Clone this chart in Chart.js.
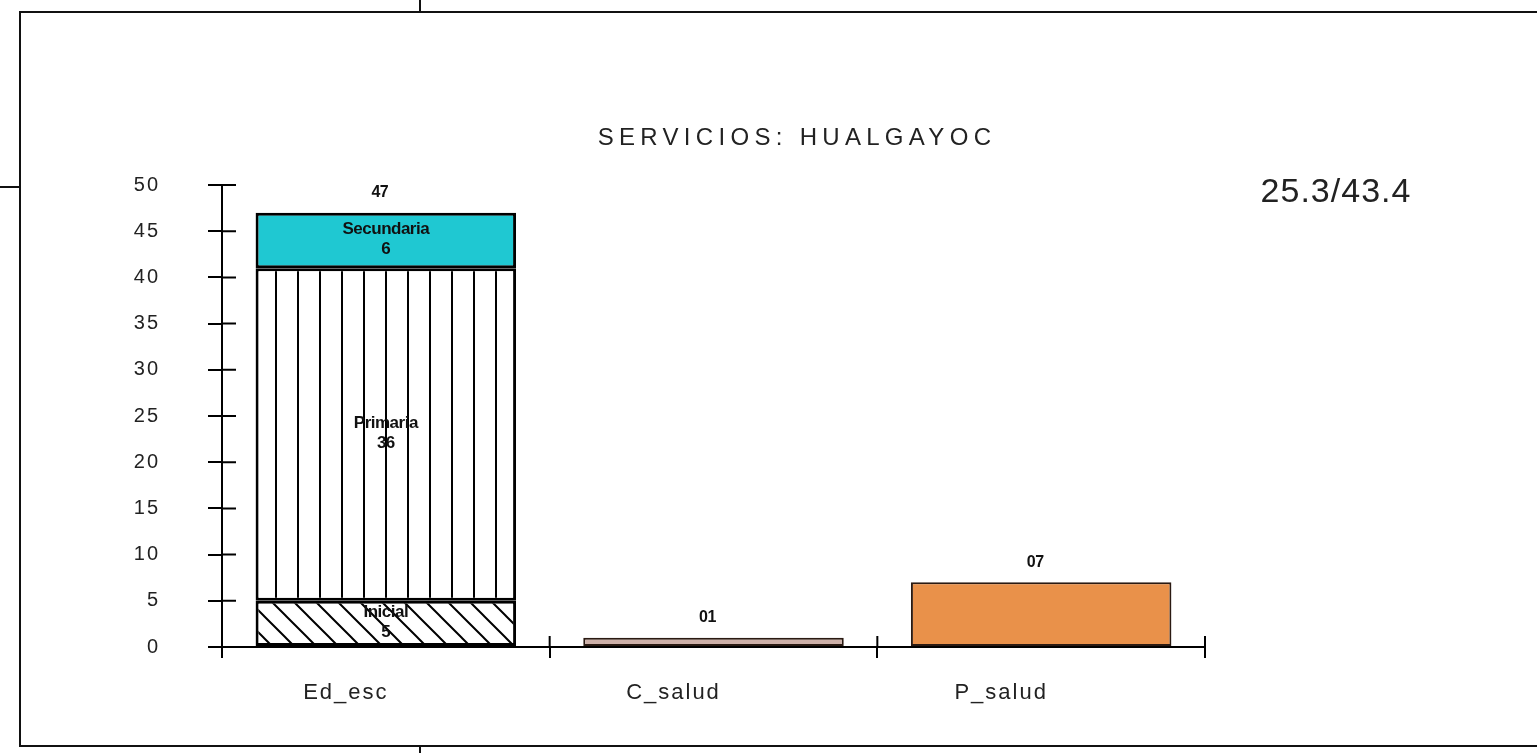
<!DOCTYPE html>
<html>
<head>
<meta charset="utf-8">
<script src="https://cdn.jsdelivr.net/npm/chart.js@4/dist/chart.umd.min.js"></script>
<style>
  html, body { margin: 0; padding: 0; background: #fff; overflow: hidden; }
  #wrap { width: 1537px; height: 753px; position: relative; }
</style>
</head>
<body>
<div id="wrap"><canvas id="MyChart" width="1537" height="753"></canvas></div>
<script>
// data
const categories = ['Ed_esc', 'C_salud', 'P_salud'];
const levelNames = ['Inicial', 'Primaria', 'Secundaria'];
const inicial = [5, null, null];
const primaria = [36, null, null];
const secundaria = [6, null, null];
const salud = [null, 1, 7];
const yTicks = [0, 5, 10, 15, 20, 25, 30, 35, 40, 45, 50];
const chartTitle = 'SERVICIOS: HUALGAYOC';
const sideNote = '25.3/43.4';

function makePattern(kind) {
  const c = document.createElement('canvas');
  c.width = 22; c.height = 22;
  const g = c.getContext('2d');
  g.fillStyle = '#fff';
  g.fillRect(0, 0, 22, 22);
  g.strokeStyle = '#000';
  g.lineWidth = 2;
  g.beginPath();
  if (kind == 'vertical') {
    g.moveTo(12, 0); g.lineTo(12, 22);
  } else {
    g.moveTo(-4, -4); g.lineTo(26, 26);
    g.moveTo(-4, 18); g.lineTo(8, 30);
    g.moveTo(14, -8); g.lineTo(30, 8);
  }
  g.stroke();
  return g.createPattern(c, 'repeat');
}

const fmt2 = v => String(v).padStart(2, '0');

const decorPlugin = {
  id: 'decor',
  beforeDraw(chart) {
    const ctx = chart.ctx;
    ctx.save();
    ctx.strokeStyle = '#111';
    ctx.lineWidth = 2;
    ctx.strokeRect(20, 12, 1540, 734);
    ctx.beginPath();
    ctx.moveTo(0, 187); ctx.lineTo(20, 187);
    ctx.moveTo(420, 0); ctx.lineTo(420, 12);
    ctx.moveTo(420, 746); ctx.lineTo(420, 753);
    ctx.stroke();
    ctx.restore();
    ctx.letterSpacing = '2px';
  },
  afterDraw(chart) {
    const ctx = chart.ctx;
    const x = chart.scales.x, y = chart.scales.y;
    ctx.save();
    ctx.letterSpacing = '0px';
    // inner half of the crossing ticks
    ctx.strokeStyle = '#000';
    ctx.lineWidth = 2;
    ctx.beginPath();
    yTicks.forEach(t => {
      const py = y.getPixelForValue(t);
      ctx.moveTo(x.left, py); ctx.lineTo(x.left + 14, py);
    });
    for (let i = 1; i <= categories.length; i++) {
      const px = x.left + (x.right - x.left) * i / categories.length;
      ctx.moveTo(px, y.bottom); ctx.lineTo(px, y.bottom - 11);
    }
    ctx.stroke();

    // segment labels in the stacked bar
    ctx.fillStyle = '#111';
    ctx.textAlign = 'center';
    ctx.textBaseline = 'middle';
    ctx.font = 'bold 17px "Liberation Sans"';
    ctx.letterSpacing = '-0.5px';
    const segs = [inicial, primaria, secundaria];
    segs.forEach((arr, di) => {
      const meta = chart.getDatasetMeta(di);
      arr.forEach((v, i) => {
        if (v == null) return;
        const el = meta.data[i];
        const cy = (el.y + el.base) / 2;
        ctx.fillText(levelNames[di], el.x, cy - 11);
        ctx.fillText(String(v), el.x, cy + 9);
      });
    });

    // totals above the bars
    ctx.font = 'bold 16px "Liberation Sans"';
    categories.forEach((c, i) => {
      const total = (inicial[i] || 0) + (primaria[i] || 0) + (secundaria[i] || 0) + (salud[i] || 0);
      const top = y.getPixelForValue(total);
      ctx.fillText(fmt2(total), x.getPixelForValue(i) - 6, top - 20);
    });

    // title and side note
    ctx.fillStyle = '#222';
    ctx.font = '24px "Liberation Sans"';
    ctx.letterSpacing = '5.3px';
    ctx.fillText(chartTitle, 797, 138);
    ctx.font = '34px "Liberation Sans"';
    ctx.letterSpacing = '1px';
    ctx.fillText(sideNote, 1336, 193);
    ctx.restore();
    ctx.letterSpacing = '0px';
  }
};

const ctx = document.getElementById('MyChart').getContext('2d');
const myChart = new Chart(ctx, {
  type: 'bar',
  data: {
    labels: categories,
    datasets: [
      { label: 'Inicial', data: inicial, backgroundColor: makePattern('diag'), borderColor: '#000', borderWidth: 3, borderSkipped: false },
      { label: 'Primaria', data: primaria, backgroundColor: makePattern('vertical'), borderColor: '#000', borderWidth: 3, borderSkipped: false },
      { label: 'Secundaria', data: secundaria, backgroundColor: '#1fc8d2', borderColor: '#000', borderWidth: 3, borderSkipped: false },
      { label: 'Salud', data: salud, backgroundColor: ['#fff', '#cdb0a8', '#e9914a'], borderColor: '#2a1a12', borderWidth: 2, borderSkipped: false }
    ]
  },
  options: {
    responsive: false,
    animation: false,
    events: [],
    layout: { padding: { top: 185, right: 332, bottom: 0, left: 0 } },
    plugins: { legend: { display: false }, title: { display: false }, tooltip: { enabled: false } },
    datasets: { bar: { categoryPercentage: 1, barPercentage: 0.795 } },
    scales: {
      x: {
        stacked: true,
        offset: true,
        grid: { display: true, offset: true, drawOnChartArea: false, tickLength: 11, color: '#000', lineWidth: 2 },
        border: { display: true, color: '#000', width: 2 },
        ticks: { color: '#222', font: { family: 'Liberation Sans', size: 22 }, padding: 22, labelOffset: -40 },
        afterFit: s => { s.height = 106; }
      },
      y: {
        stacked: true,
        min: 0,
        max: 50,
        afterBuildTicks: s => { s.ticks = yTicks.map(v => ({ value: v })); },
        grid: { display: true, drawOnChartArea: false, tickLength: 14, color: '#000', lineWidth: 2 },
        border: { display: true, color: '#000', width: 2 },
        ticks: { color: '#222', font: { family: 'Liberation Sans', size: 20 }, padding: 48 },
        afterFit: s => { s.width = 222; }
      }
    }
  },
  plugins: [decorPlugin]
});
</script>
</body>
</html>
